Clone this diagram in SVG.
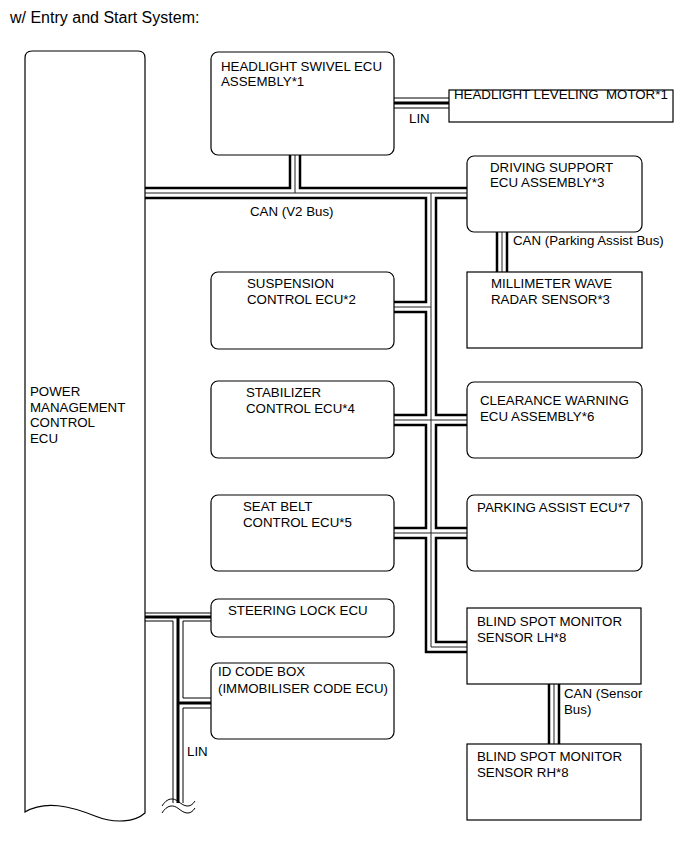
<svg xmlns="http://www.w3.org/2000/svg" width="690" height="853" viewBox="0 0 690 853">
<style>
text{font-family:"Liberation Sans",Arial,sans-serif;font-size:13.3px;fill:#000}
.title{font-size:16px}
.box{fill:#fff;stroke:#000;stroke-width:1.2}
.cw{fill:none;stroke:#000;stroke-width:2.5;stroke-linejoin:miter}
.cc{fill:none;stroke:#222;stroke-width:1}
.lw{fill:none;stroke:#000;stroke-width:1}
.lc{fill:none;stroke:#000;stroke-width:3}
.wave{fill:none;stroke:#000;stroke-width:1}
</style>
<rect width="690" height="853" fill="#fff"/>
<text class="title" x="10" y="23">w/ Entry and Start System:</text>

<g id="connectors">
  <!-- CAN V2 bus -->
  <path class="cc" d="M145,193 H467 M295,155 V193 M431,193 V647 H467 M394,307 H431 M394,420 H467 M394,533 H467"/>
  <path class="cw" d="M145,188 H290 V155 M300,155 V188 H467
    M145,198 H426 V302 H394 M394,312 H426 V415 H394 M394,425 H426 V528 H394 M394,538 H426 V652 H467
    M467,198 H436 V415 H467 M467,425 H436 V528 H467 M467,538 H436 V642 H467"/>
  <!-- CAN Parking Assist Bus -->
  <path class="cw" d="M497,232 V272 M507,232 V272"/>
  <path class="cc" d="M502,232 V272"/>
  <!-- CAN Sensor Bus -->
  <path class="cw" d="M549,684 V744 M559,684 V744"/>
  <path class="cc" d="M554,684 V744"/>
  <!-- LIN headlight -->
  <path class="lw" d="M394,98 H449 M394,108 H449"/>
  <path class="lc" d="M394,103 H449"/>
  <!-- LIN steering lock / ID code -->
  <path class="lw" d="M145,613 H212 M145,621 H173 V803 M212,621 H183 V698 H212 M212,708 H183 V803"/>
  <path class="lc" d="M145,617 H212 M178,617 V803 M178,703 H212"/>
  <path class="wave" d="M162,806 C167,798 173,797 179,802 C184,806 190,809 195,801"/>
  <path class="wave" d="M162,813 C167,805 173,804 179,809 C184,813 190,816 195,808"/>
  <text x="409" y="123">LIN</text>
  <text x="250" y="216">CAN (V2 Bus)</text>
  <text x="513" y="245">CAN (Parking Assist Bus)</text>
  <text x="564" y="698">CAN (Sensor</text>
  <text x="564" y="714">Bus)</text>
  <text x="187" y="756">LIN</text>
</g>

<g id="power-management">
  <path class="box" d="M145,813 C135,822 115,824 95,816 C70,806 45,800 25,812 V58 Q25,51 32,51 H138 Q145,51 145,58 Z"/>
  <text x="30" y="396">POWER</text>
  <text x="30" y="412">MANAGEMENT</text>
  <text x="30" y="427">CONTROL</text>
  <text x="30" y="443">ECU</text>
</g>
<g id="headlight-swivel">
  <rect class="box" x="211" y="52" width="183" height="103" rx="7"/>
  <text x="221" y="71">HEADLIGHT SWIVEL ECU</text>
  <text x="221" y="86">ASSEMBLY*1</text>
</g>
<g id="headlight-leveling">
  <rect class="box" x="449" y="90" width="224" height="32"/>
  <text x="454" y="99" style="white-space:pre">HEADLIGHT LEVELING  MOTOR*1</text>
</g>
<g id="driving-support">
  <rect class="box" x="467" y="156" width="175" height="76" rx="7"/>
  <text x="490" y="172">DRIVING SUPPORT</text>
  <text x="490" y="187">ECU ASSEMBLY*3</text>
</g>
<g id="millimeter-wave">
  <rect class="box" x="467" y="272" width="175" height="76"/>
  <text x="491" y="288">MILLIMETER WAVE</text>
  <text x="491" y="304">RADAR SENSOR*3</text>
</g>
<g id="clearance-warning">
  <rect class="box" x="467" y="382" width="175" height="76" rx="7"/>
  <text x="480" y="405">CLEARANCE WARNING</text>
  <text x="480" y="421">ECU ASSEMBLY*6</text>
</g>
<g id="parking-assist">
  <rect class="box" x="467" y="495" width="175" height="76" rx="7"/>
  <text x="477" y="512">PARKING ASSIST ECU*7</text>
</g>
<g id="bsm-lh">
  <rect class="box" x="467" y="608" width="174" height="76"/>
  <text x="477" y="626">BLIND SPOT MONITOR</text>
  <text x="477" y="642">SENSOR LH*8</text>
</g>
<g id="bsm-rh">
  <rect class="box" x="467" y="744" width="174" height="76"/>
  <text x="477" y="761">BLIND SPOT MONITOR</text>
  <text x="477" y="777">SENSOR RH*8</text>
</g>
<g id="suspension">
  <rect class="box" x="211" y="272" width="183" height="77" rx="7"/>
  <text x="247" y="288">SUSPENSION</text>
  <text x="247" y="304">CONTROL ECU*2</text>
</g>
<g id="stabilizer">
  <rect class="box" x="211" y="381" width="183" height="77" rx="7"/>
  <text x="246" y="397">STABILIZER</text>
  <text x="246" y="413">CONTROL ECU*4</text>
</g>
<g id="seat-belt">
  <rect class="box" x="211" y="495" width="183" height="76" rx="7"/>
  <text x="243" y="511">SEAT BELT</text>
  <text x="243" y="527">CONTROL ECU*5</text>
</g>
<g id="steering-lock">
  <rect class="box" x="211" y="599" width="183" height="38" rx="7"/>
  <text x="228" y="615">STEERING LOCK ECU</text>
</g>
<g id="id-code-box">
  <rect class="box" x="211" y="663" width="183" height="76" rx="7"/>
  <text x="218" y="676">ID CODE BOX</text>
  <text x="218" y="693">(IMMOBILISER CODE ECU)</text>
</g>
</svg>
